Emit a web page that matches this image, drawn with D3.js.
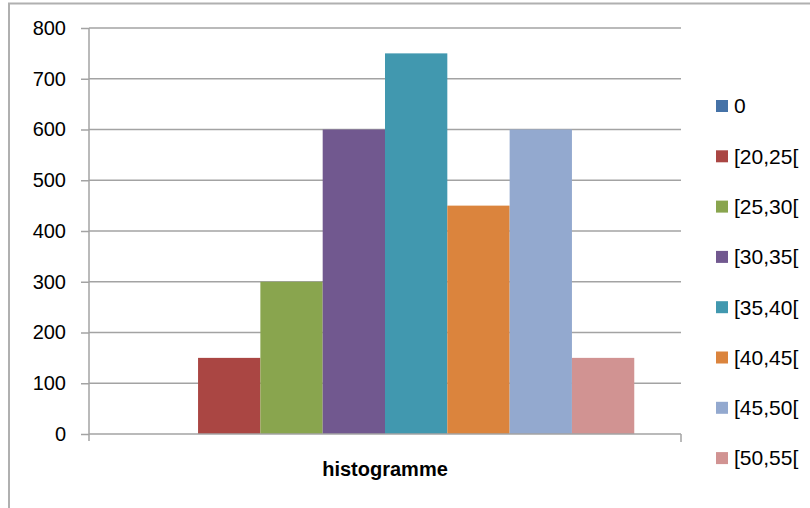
<!DOCTYPE html>
<html>
<head>
<meta charset="utf-8">
<script src="https://cdn.jsdelivr.net/npm/d3@7"></script>
<style>
  html, body { margin: 0; padding: 0; background: #fff; }
  svg { display: block; }
  text { font-family: "Liberation Sans", Arial, sans-serif; fill: #000; }
</style>
</head>
<body>
<svg id="chart" width="810" height="508"></svg>
<script>
// Histogram data: one category, one series per age class
const category = "histogramme";
const seriesNames = ["0", "[20,25[", "[25,30[", "[30,35[", "[35,40[", "[40,45[", "[45,50[", "[50,55["];
const seriesValues = [0, 150, 300, 600, 750, 450, 600, 150];
const seriesColors = ["#4572A7", "#AA4643", "#89A54E", "#71588F", "#4198AF", "#DB843D", "#93A9CF", "#D19392"];
const yTicks = [0, 100, 200, 300, 400, 500, 600, 700, 800];

const svg = d3.select("#chart");
const gridColor = "#a3a3a3";

// Chart frame (left and top edges visible)
svg.append("path")
  .attr("d", "M9,508 V3.5 H810")
  .attr("fill", "none")
  .attr("stroke", "#b0b0b0")
  .attr("stroke-width", 2);

const plot = { left: 89, right: 681, top: 28, bottom: 434 };

const y = d3.scaleLinear().domain([0, 800]).range([plot.bottom, plot.top]);
const x = d3.scaleBand()
  .domain(seriesNames)
  .range([plot.left, plot.right])
  .paddingInner(0)
  .paddingOuter(0.75);

// Horizontal gridlines
svg.append("g")
  .selectAll("line")
  .data(yTicks.filter(d => d > 0))
  .join("line")
  .attr("x1", plot.left).attr("x2", plot.right)
  .attr("y1", d => y(d)).attr("y2", d => y(d))
  .attr("stroke", gridColor).attr("stroke-width", 1.5);

// Bars
svg.append("g")
  .selectAll("rect")
  .data(seriesNames.map((n, i) => ({ name: n, value: seriesValues[i], color: seriesColors[i] })))
  .join("rect")
  .attr("x", d => x(d.name))
  .attr("width", x.bandwidth())
  .attr("y", d => y(d.value))
  .attr("height", d => y(0) - y(d.value))
  .attr("fill", d => d.color);

// Y axis
const yAxis = d3.axisLeft(y).tickValues(yTicks).tickSize(8).tickPadding(15).tickFormat(d3.format("d"));
const gy = svg.append("g").attr("transform", `translate(${plot.left},0)`).call(yAxis);
gy.select(".domain").remove();
gy.append("line")
  .attr("x1", 0).attr("x2", 0)
  .attr("y1", plot.top).attr("y2", plot.bottom + 7)
  .attr("stroke", gridColor).attr("stroke-width", 1.5);
gy.selectAll(".tick line").attr("stroke", gridColor).attr("stroke-width", 1.5);
gy.selectAll(".tick text")
  .attr("font-size", 20)
  .attr("font-family", "Liberation Sans, Arial, sans-serif")
  .attr("fill", "#111");

// X axis (single category)
const xCat = d3.scaleBand().domain([category]).range([plot.left, plot.right]);
const gx = svg.append("g").attr("transform", `translate(0,${plot.bottom})`);
gx.append("line")
  .attr("x1", plot.left).attr("x2", plot.right)
  .attr("stroke", gridColor).attr("stroke-width", 1.5);
gx.append("line")
  .attr("x1", plot.right).attr("x2", plot.right)
  .attr("y1", 0).attr("y2", 8)
  .attr("stroke", gridColor).attr("stroke-width", 1.5);
gx.append("text")
  .attr("x", xCat(category) + xCat.bandwidth() / 2)
  .attr("y", 42)
  .attr("text-anchor", "middle")
  .attr("font-size", 20)
  .attr("font-weight", "bold")
  .text(category);

// Legend
const legend = svg.append("g")
  .selectAll("g")
  .data(seriesNames.map((n, i) => ({ name: n, color: seriesColors[i] })))
  .join("g")
  .attr("transform", (d, i) => `translate(716,${106 + i * 50.3})`);
legend.append("rect")
  .attr("x", 0).attr("y", -6)
  .attr("width", 12).attr("height", 12)
  .attr("fill", d => d.color);
legend.append("text")
  .attr("x", 18).attr("y", 0)
  .attr("dy", "0.35em")
  .attr("font-size", 21)
  .text(d => d.name);
</script>
</body>
</html>
